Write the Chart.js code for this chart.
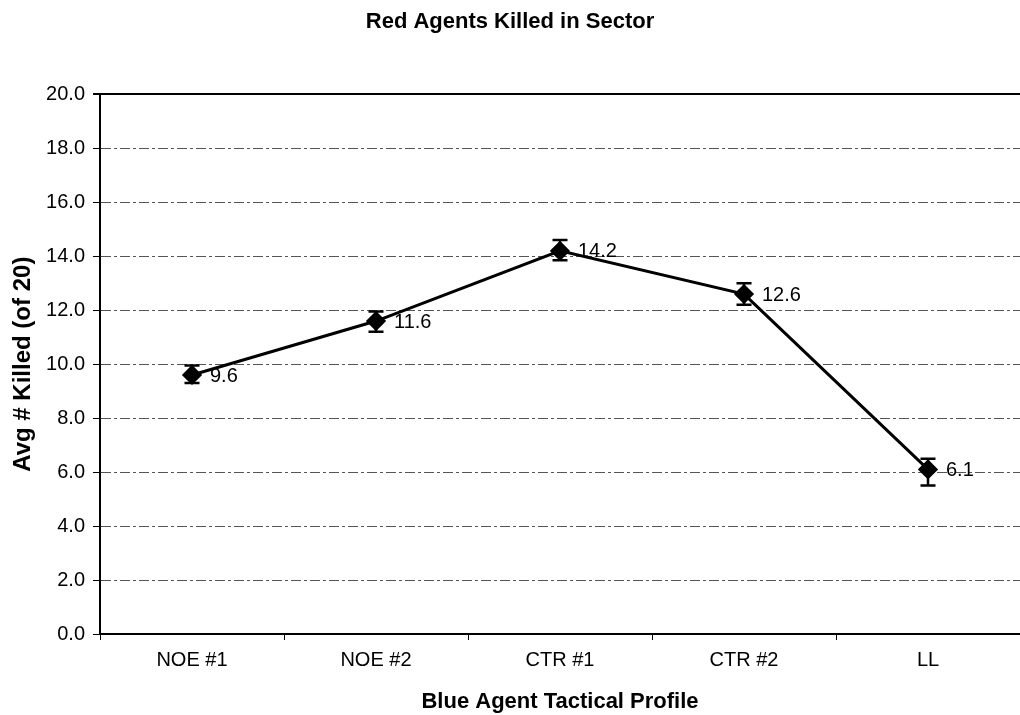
<!DOCTYPE html>
<html>
<head>
<meta charset="utf-8">
<script src="https://cdn.jsdelivr.net/npm/chart.js@4/dist/chart.umd.min.js"></script>
<style>
  body { margin: 0; background: #fff; }
  canvas { display: block; }
</style>
</head>
<body>
<canvas id="killedChart" width="1020" height="715"></canvas>
<script>
// chart data
var categories = ['NOE #1', 'NOE #2', 'CTR #1', 'CTR #2', 'LL'];
var avgKilled = [9.6, 11.6, 14.2, 12.6, 6.1];
var errLow = [9.3, 11.2, 13.85, 12.2, 5.5];
var errHigh = [9.95, 11.95, 14.6, 13.0, 6.5];
var yTicks = [0, 2, 4, 6, 8, 10, 12, 14, 16, 18, 20];

Chart.defaults.font.family = '"Liberation Sans", Arial, sans-serif';
Chart.defaults.color = '#000';

// error bars, drawn through the scales
var errorBars = {
    id: 'errorBars',
    afterDatasetsDraw: function (chart) {
        var ctx = chart.ctx;
        var xs = chart.scales.x, ys = chart.scales.y;
        ctx.save();
        ctx.strokeStyle = '#000';
        ctx.lineWidth = 2.5;
        for (var i = 0; i < avgKilled.length; i++) {
            var x = xs.getPixelForValue(i);
            var lo = ys.getPixelForValue(errLow[i]);
            var hi = ys.getPixelForValue(errHigh[i]);
            ctx.beginPath();
            ctx.moveTo(x, lo); ctx.lineTo(x, hi);
            ctx.moveTo(x - 7.5, lo); ctx.lineTo(x + 7.5, lo);
            ctx.moveTo(x - 7.5, hi); ctx.lineTo(x + 7.5, hi);
            ctx.stroke();
        }
        ctx.restore();
    }
};

// value labels right of each point
var valueLabels = {
    id: 'valueLabels',
    afterDatasetsDraw: function (chart) {
        var ctx = chart.ctx;
        var meta = chart.getDatasetMeta(0);
        ctx.save();
        ctx.fillStyle = '#000';
        ctx.font = '20px "Liberation Sans", Arial, sans-serif';
        ctx.textAlign = 'left';
        ctx.textBaseline = 'middle';
        meta.data.forEach(function (pt, i) {
            ctx.fillText(avgKilled[i].toFixed(1), pt.x + 18, pt.y + 1);
        });
        ctx.restore();
    }
};

new Chart(document.getElementById('killedChart'), {
    type: 'line',
    data: {
        labels: categories,
        datasets: [{
            data: avgKilled,
            borderColor: '#000',
            borderWidth: 3,
            backgroundColor: '#000',
            pointStyle: 'rectRot',
            pointRadius: 8,
            pointBackgroundColor: '#000',
            pointBorderColor: '#000',
            tension: 0,
            fill: false
        }]
    },
    plugins: [errorBars, valueLabels],
    options: {
        responsive: false,
        animation: false,
        devicePixelRatio: 1,
        layout: { autoPadding: false, padding: 0 },
        plugins: {
            legend: { display: false },
            tooltip: { enabled: false },
            title: {
                display: true,
                text: 'Red Agents Killed in Sector',
                font: { size: 22, weight: 'bold' },
                padding: { top: 9, bottom: 59 }
            }
        },
        scales: {
            x: {
                offset: true,
                afterFit: function (s) {
                    s.height = 81;
                    s.paddingLeft = 0;
                    s.paddingRight = 0;
                },
                grid: {
                    offset: true,
                    drawOnChartArea: false,
                    color: '#000',
                    tickLength: 6,
                    tickWidth: 1
                },
                border: { color: '#000', width: 2 },
                ticks: { font: { size: 20 }, padding: 8, color: '#000' },
                title: {
                    display: true,
                    text: 'Blue Agent Tactical Profile',
                    font: { size: 22, weight: 'bold' },
                    padding: { top: 0, bottom: 0 }
                }
            },
            y: {
                min: 0,
                max: 20,
                afterFit: function (s) { s.width = 100; },
                afterBuildTicks: function (s) {
                    s.ticks = yTicks.map(function (v) { return { value: v }; });
                },
                grid: {
                    color: function (c) { return c.tick && c.tick.value === 20 ? '#000' : '#555'; },
                    lineWidth: function (c) { return c.tick && c.tick.value === 20 ? 2 : 1; },
                    tickLength: 7,
                    tickColor: '#000',
                    tickBorderDash: []
                },
                border: {
                    color: '#000',
                    width: 2,
                    dash: function (c) { return c.tick && c.tick.value === 20 ? [] : [10, 3, 3, 3]; }
                },
                ticks: {
                    font: { size: 20 },
                    padding: 8,
                    color: '#000',
                    callback: function (v) { return Number(v).toFixed(1); }
                },
                title: {
                    display: true,
                    text: 'Avg # Killed (of 20)',
                    font: { size: 24, weight: 'bold' },
                    padding: { top: 9, bottom: 0 }
                }
            }
        }
    }
});
</script>
</body>
</html>
